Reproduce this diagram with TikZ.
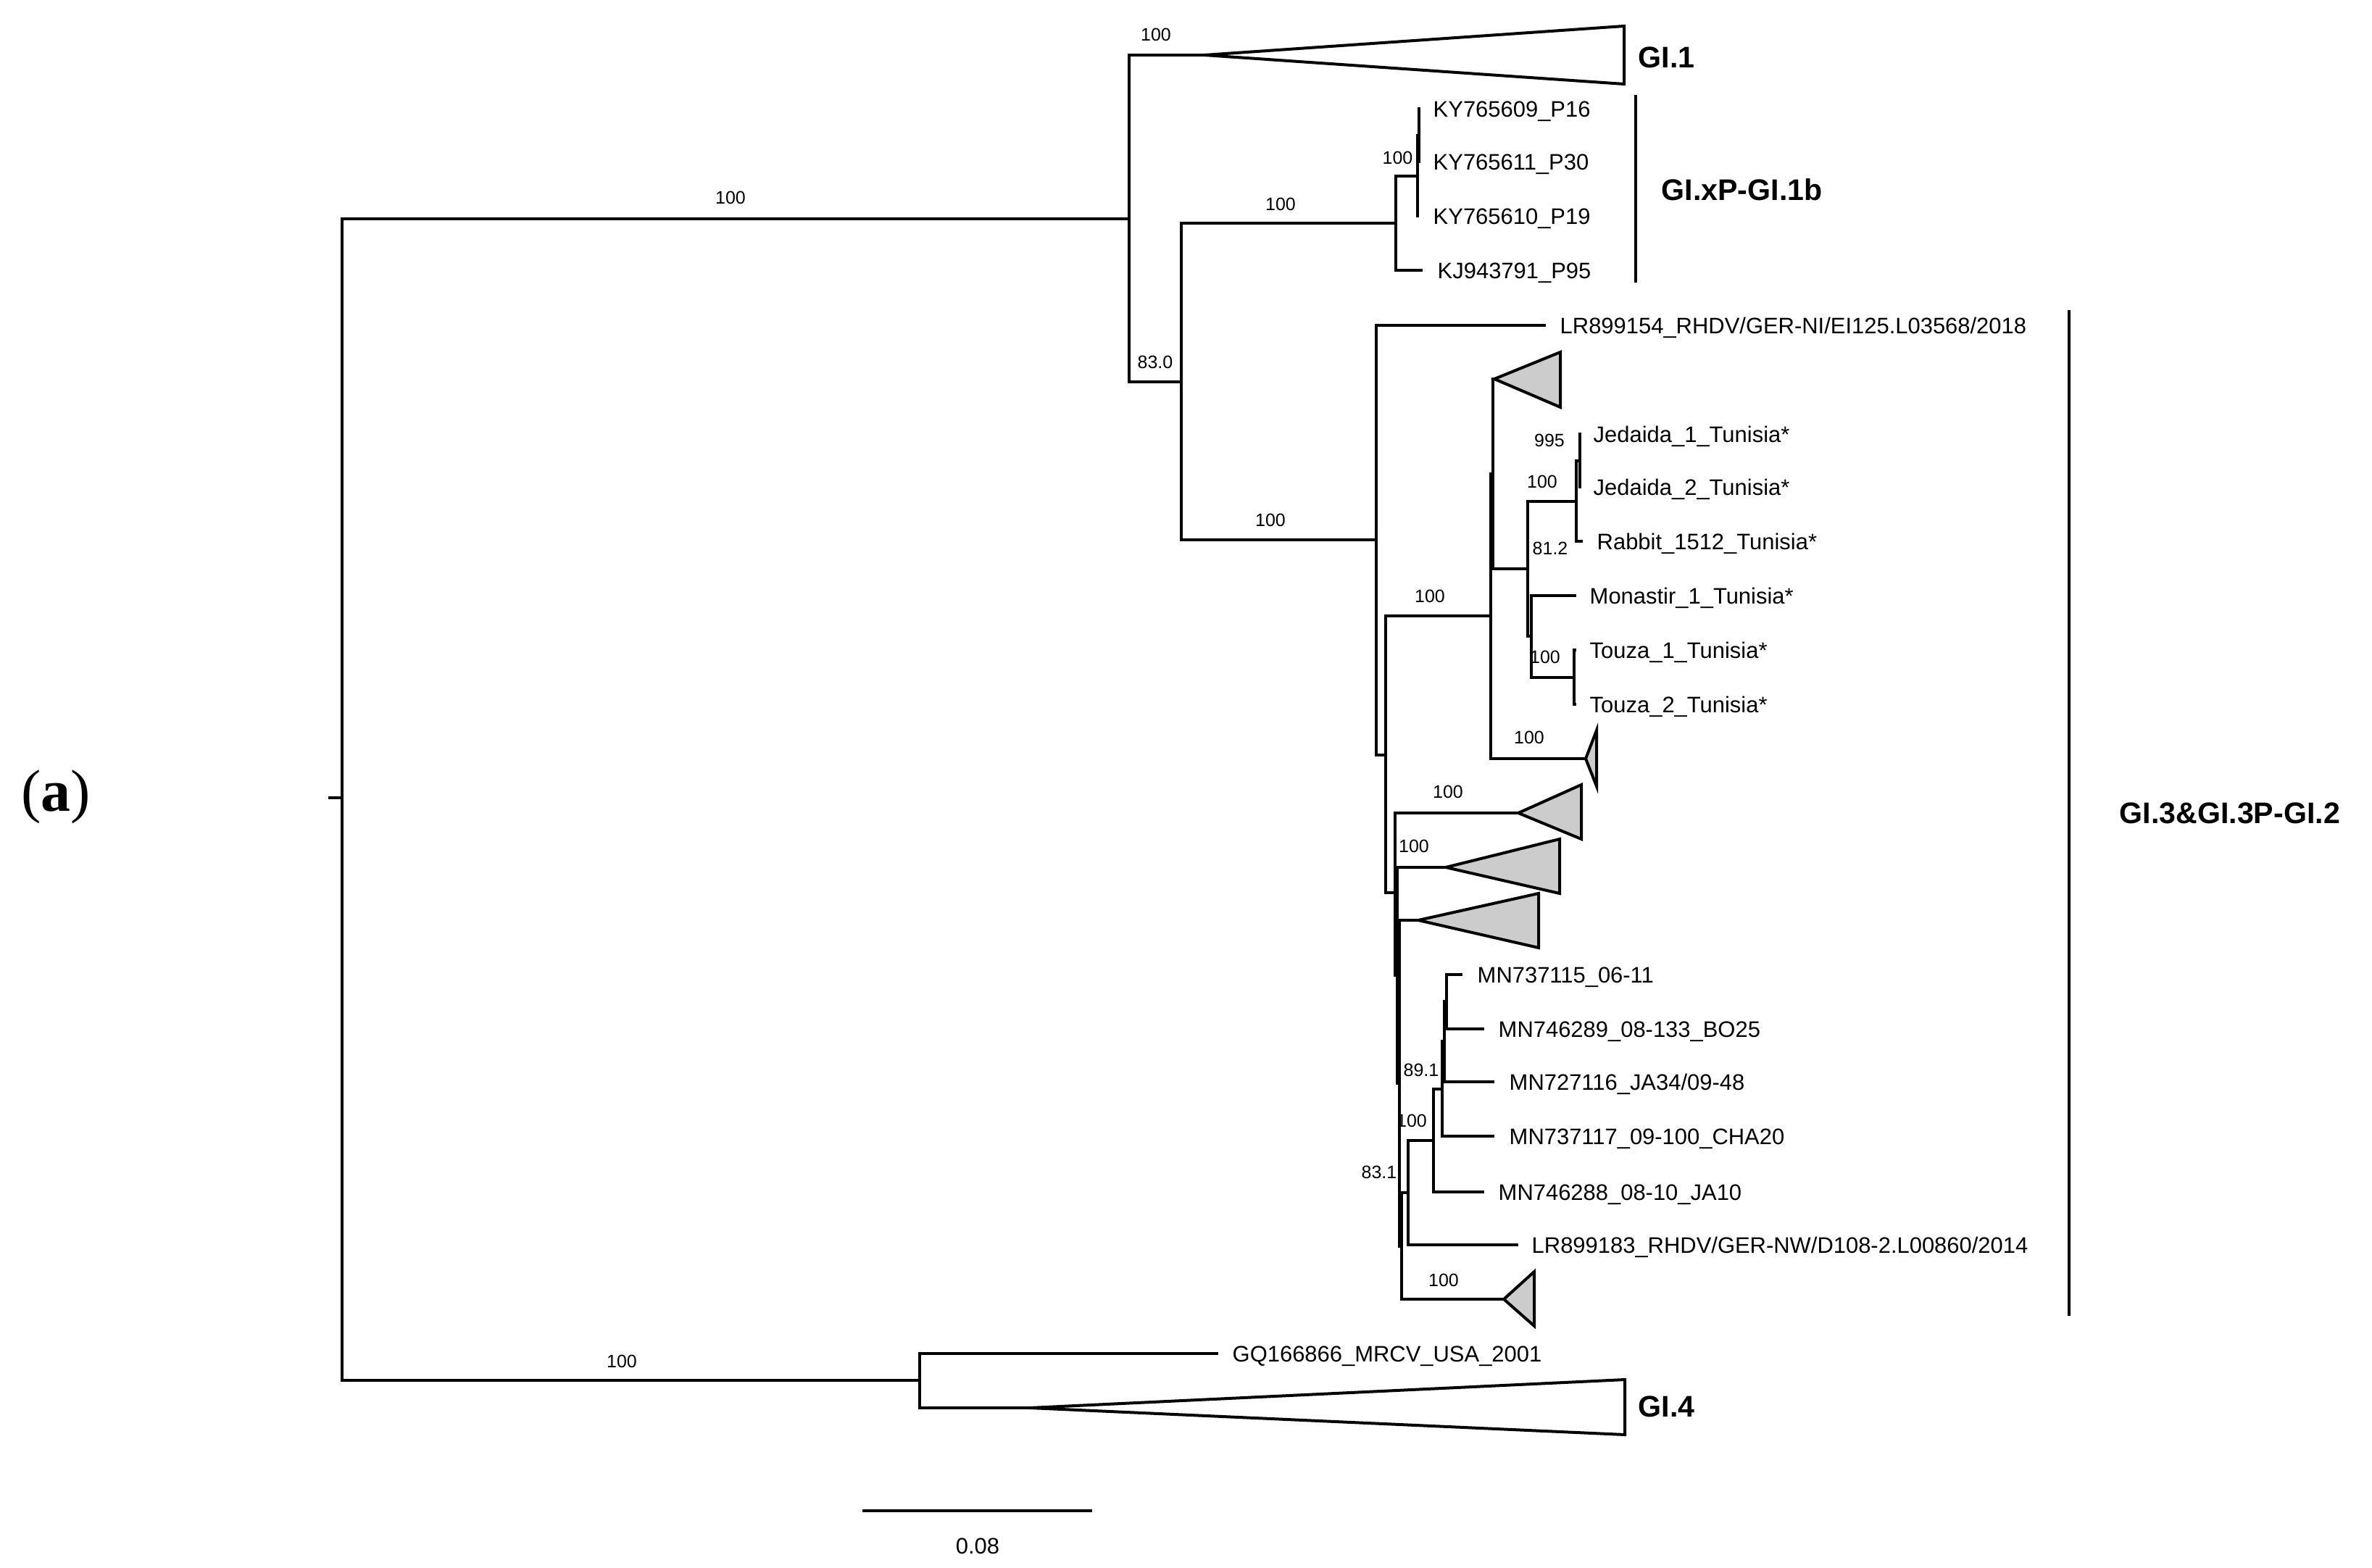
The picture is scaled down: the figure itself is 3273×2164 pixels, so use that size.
\documentclass[tikz,border=0pt]{standalone}
\usepackage{fontspec}
\setmainfont{Liberation Sans}
\newfontfamily\serifa{Liberation Serif}
\definecolor{cladegray}{HTML}{CCCCCC}
\tikzset{
  br/.style={line width=0.04cm},
  clade/.style={line width=0.04cm, fill=cladegray, line join=miter},
  bigclade/.style={line width=0.04cm, fill=white, line join=miter},
  tip/.style={anchor=west, inner sep=0pt, font=\fontsize{8.8}{10}\selectfont, text height=6.3pt, text depth=0pt},
  bs/.style={inner sep=0pt, font=\fontsize{7.1}{8}\selectfont, text height=5.1pt, text depth=0pt},
  grp/.style={anchor=west, inner sep=0pt, font=\bfseries\fontsize{11.7}{13}\selectfont, text height=8.4pt, text depth=0pt},
}
\begin{document}
\begin{tikzpicture}[x=0.01cm, y=-0.01cm]
\useasboundingbox (0,0) rectangle (3273,2164);
% ---------- coordinates ----------
\coordinate (R) at (472,1101);
\coordinate (Rt) at (453,1101);
\coordinate (U1) at (1558,302);
\coordinate (g1a) at (1662,76); \coordinate (g1b) at (2241,36); \coordinate (g1c) at (2241,116);
\coordinate (B) at (1630,527);
\coordinate (C) at (1926,308);
\coordinate (D) at (1956,243);
\coordinate (Dp) at (1958,187);
\coordinate (kyA) at (1960,150);
\coordinate (kyB) at (1960,223);
\coordinate (kyC) at (1958,298);
\coordinate (kjA) at (1963,373);
\coordinate (N0) at (1899,745);
\coordinate (lrA) at (2133,449);
\coordinate (N1) at (1912,1042);
\coordinate (P) at (2057,850);
\coordinate (Q) at (2060,654);
\coordinate (t1a) at (2062,523); \coordinate (t1b) at (2153,486); \coordinate (t1c) at (2153,562);
\coordinate (L) at (2108,785);
\coordinate (K) at (2175,692);
\coordinate (J) at (2180,636);
\coordinate (jdA) at (2182,599);
\coordinate (jdB) at (2182,672);
\coordinate (rbA) at (2184,747);
\coordinate (M) at (2113,878);
\coordinate (moA) at (2175,822);
\coordinate (T) at (2172,935);
\coordinate (tzA) at (2175,897);
\coordinate (tzB) at (2175,972);
\coordinate (t2a) at (2188,1047); \coordinate (t2b) at (2203,1008); \coordinate (t2c) at (2203,1085);
\coordinate (N2) at (1925,1232);
\coordinate (t3a) at (2095,1122); \coordinate (t3b) at (2182,1083); \coordinate (t3c) at (2182,1158);
\coordinate (V) at (1928,1346);
\coordinate (t4a) at (1995,1197); \coordinate (t4b) at (2152,1158); \coordinate (t4c) at (2152,1233);
\coordinate (W) at (1931,1495);
\coordinate (t5a) at (1957,1270); \coordinate (t5b) at (2123,1233); \coordinate (t5c) at (2123,1308);
\coordinate (A6) at (1934,1720);
\coordinate (t6a) at (2075,1793); \coordinate (t6b) at (2117,1755); \coordinate (t6c) at (2117,1830);
\coordinate (A5) at (1943,1646);
\coordinate (lrB) at (2095,1718);
\coordinate (A4) at (1978,1574);
\coordinate (mnE) at (2048,1645);
\coordinate (A3) at (1990,1503);
\coordinate (mnD) at (2062,1568);
\coordinate (A2) at (1993,1437);
\coordinate (mnC) at (2062,1493);
\coordinate (A1) at (1996,1382);
\coordinate (mnA) at (2018,1345);
\coordinate (mnB) at (2048,1420);
\coordinate (G) at (1269,1905);
\coordinate (gqA) at (1681,1868);
\coordinate (g4a) at (1421,1943); \coordinate (g4b) at (2242,1904); \coordinate (g4c) at (2242,1980);
% ---------- bootstrap labels ----------
\node[bs] (b01) at (1008,273) {100};
\node[bs] (b02) at (1595,48) {100};
\node[bs, anchor=east] (b03) at (1950,218) {100};
\node[bs] (b04) at (1767,282) {100};
\node[bs] (b05) at (1594,500) {83.0};
\node[bs] (b06) at (1753,718) {100};
\node[bs] (b07) at (2138,608) {995};
\node[bs] (b08) at (2128,665) {100};
\node[bs] (b09) at (2139,757) {81.2};
\node[bs] (b10) at (1973,823) {100};
\node[bs] (b11) at (2132,907) {100};
\node[bs] (b12) at (2110,1018) {100};
\node[bs] (b13) at (1998,1093) {100};
\node[bs] (b14) at (1951,1168) {100};
\node[bs] (b15) at (1961,1477) {89.1};
\node[bs] (b16) at (1948,1547) {100};
\node[bs] (b17) at (1903,1618) {83.1};
\node[bs] (b18) at (1992,1767) {100};
\node[bs] (b19) at (858,1879) {100};
% ---------- branches ----------
\draw[br] (Rt) -- (R);
\draw[br] (R) |- (U1);
\draw[br] (R) |- (G);
\draw[br] (U1) |- (g1a);
\draw[br] (U1) |- (B);
\draw[br] (B) |- (C);
\draw[br] (B) |- (N0);
\draw[br] (C) |- (D);
\draw[br] (C) |- (kjA);
\draw[br] (D) |- (Dp);
\draw[br] (D) |- (kyC);
\draw[br] (Dp) |- (kyA);
\draw[br] (Dp) |- (kyB);
\draw[br] (N0) |- (lrA);
\draw[br] (N0) |- (N1);
\draw[br] (N1) |- (P);
\draw[br] (N1) |- (N2);
\draw[br] (P) |- (Q);
\draw[br] (P) |- (t2a);
\draw[br] (Q) |- (t1a);
\draw[br] (Q) |- (L);
\draw[br] (L) |- (K);
\draw[br] (L) |- (M);
\draw[br] (K) |- (J);
\draw[br] (K) |- (rbA);
\draw[br] (J) |- (jdA);
\draw[br] (J) |- (jdB);
\draw[br] (M) |- (moA);
\draw[br] (M) |- (T);
\draw[br] (T) |- (tzA);
\draw[br] (T) |- (tzB);
\draw[br] (N2) |- (t3a);
\draw[br] (N2) |- (V);
\draw[br] (V) |- (t4a);
\draw[br] (V) |- (W);
\draw[br] (W) |- (t5a);
\draw[br] (W) |- (A6);
\draw[br] (A6) |- (A5);
\draw[br] (A6) |- (t6a);
\draw[br] (A5) |- (A4);
\draw[br] (A5) |- (lrB);
\draw[br] (A4) |- (A3);
\draw[br] (A4) |- (mnE);
\draw[br] (A3) |- (A2);
\draw[br] (A3) |- (mnD);
\draw[br] (A2) |- (A1);
\draw[br] (A2) |- (mnC);
\draw[br] (A1) |- (mnA);
\draw[br] (A1) |- (mnB);
\draw[br] (G) |- (gqA);
\draw[br] (G) |- (g4a);
% ---------- collapsed clades ----------
\draw[bigclade] (g1a) -- (g1b) -- (g1c) -- cycle;
\draw[bigclade] (g4a) -- (g4b) -- (g4c) -- cycle;
\draw[clade] (t1a) -- (t1b) -- (t1c) -- cycle;
\draw[clade] (t2a) -- (t2b) -- (t2c) -- cycle;
\draw[clade] (t3a) -- (t3b) -- (t3c) -- cycle;
\draw[clade] (t4a) -- (t4b) -- (t4c) -- cycle;
\draw[clade] (t5a) -- (t5b) -- (t5c) -- cycle;
\draw[clade] (t6a) -- (t6b) -- (t6c) -- cycle;
% ---------- tip labels ----------
\node[tip] (nKY1) at (1977,150) {KY765609\_P16};
\node[tip] (nKY2) at (1977,223) {KY765611\_P30};
\node[tip] (nKY3) at (1977,298) {KY765610\_P19};
\node[tip] (nKJ) at (1983,373) {KJ943791\_P95};
\node[tip] (nLR1) at (2152,449) {LR899154\_RHDV/GER-NI/EI125.L03568/2018};
\node[tip] (nJe1) at (2198,599) {Jedaida\_1\_Tunisia*};
\node[tip] (nJe2) at (2198,672) {Jedaida\_2\_Tunisia*};
\node[tip] (nRab) at (2203,747) {Rabbit\_1512\_Tunisia*};
\node[tip] (nMon) at (2193,822) {Monastir\_1\_Tunisia*};
\node[tip] (nTo1) at (2193,897) {Touza\_1\_Tunisia*};
\node[tip] (nTo2) at (2193,972) {Touza\_2\_Tunisia*};
\node[tip] (nMN1) at (2038,1345) {MN737115\_06-11};
\node[tip] (nMN2) at (2067,1420) {MN746289\_08-133\_BO25};
\node[tip] (nMN3) at (2082,1493) {MN727116\_JA34/09-48};
\node[tip] (nMN4) at (2082,1568) {MN737117\_09-100\_CHA20};
\node[tip] (nMN5) at (2067,1645) {MN746288\_08-10\_JA10};
\node[tip] (nLR2) at (2113,1718) {LR899183\_RHDV/GER-NW/D108-2.L00860/2014};
\node[tip] (nGQ) at (1700,1868) {GQ166866\_MRCV\_USA\_2001};
% ---------- group labels and brackets ----------
\node[grp] (gGI1) at (2260,79) {GI.1};
\node[grp] (gGIx) at (2292,262) {GI.xP-GI.1b};
\node[grp] (gGI3) at (2924,1122) {GI.3\&GI.3P-GI.2};
\node[grp] (gGI4) at (2260,1941) {GI.4};
\coordinate (brAt) at (2257,131); \coordinate (brAb) at (2257,390);
\coordinate (brBt) at (2855,428); \coordinate (brBb) at (2855,1816);
\draw[br] (brAt) -- (brAb);
\draw[br] (brBt) -- (brBb);
% ---------- scale bar ----------
\coordinate (sbL) at (1190,2085); \coordinate (sbR) at (1507,2085);
\draw[br] (sbL) -- (sbR);
\node[bs, font=\fontsize{8.8}{10}\selectfont, text height=6.3pt] (sbT) at (1349,2133) {0.08};
% ---------- panel label ----------
\node[inner sep=0pt, font=\serifa\fontsize{23.3}{26}\selectfont] (panel) at (77,1100) {(\textbf{a})};
\end{tikzpicture}
\end{document}
